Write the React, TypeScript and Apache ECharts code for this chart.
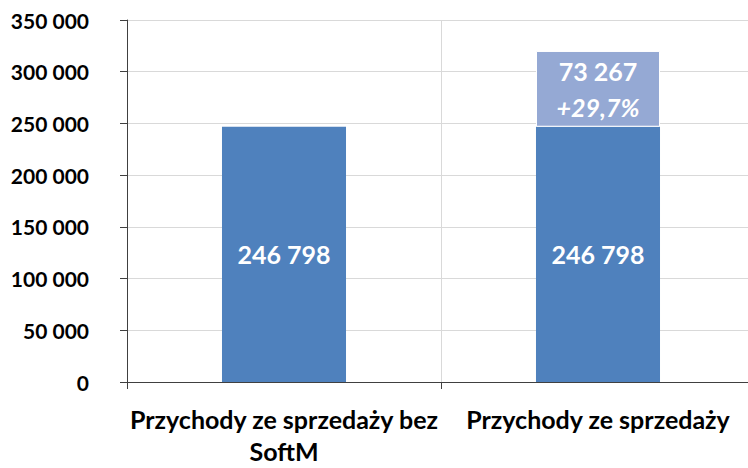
import React, { useEffect, useRef } from "react";
import * as echarts from "echarts";

const categories = ["Przychody ze sprzedaży bez\nSoftM", "Przychody ze sprzedaży"];
const baseValues = [246798, 246798];
const extraValues = [null, 73267];
const extraPct = ["", "+29,7%"];
const yTicks = { min: 0, max: 350000, interval: 50000 };

const fmt = (v: number) => String(Math.round(v)).replace(/\B(?=(\d{3})+(?!\d))/g, " ");

const FONT = "Lato";

export default function App() {
  const ref = useRef<HTMLDivElement>(null);
  useEffect(() => {
    document.body.style.margin = "0";
    if (!ref.current) return;
    const chart = echarts.init(ref.current, null, { renderer: "svg", width: 748, height: 468 });
    chart.setOption({
      animation: false,
      grid: {
        left: 127,
        top: 20,
        right: -7,
        bottom: 86,
        containLabel: false,
        outerBoundsMode: "none",
      },
      xAxis: {
        type: "category",
        data: categories,
        axisLine: { show: true, lineStyle: { color: "#404040", width: 1 } },
        axisTick: { show: true, length: 7, lineStyle: { color: "#404040" } },
        splitLine: { show: true, lineStyle: { color: "#D9D9D9", width: 1 } },
        axisLabel: {
          color: "#000",
          fontFamily: FONT,
          fontWeight: "bold",
          fontSize: 25,
          lineHeight: 32,
          margin: 21,
          interval: 0,
        },
      },
      yAxis: {
        type: "value",
        min: yTicks.min,
        max: yTicks.max,
        interval: yTicks.interval,
        axisLine: { show: true, lineStyle: { color: "#404040", width: 1 } },
        axisTick: { show: true, inside: false, length: 7, lineStyle: { color: "#404040" } },
        splitLine: { show: true, lineStyle: { color: "#D9D9D9", width: 1 } },
        axisLabel: {
          color: "#000",
          fontFamily: FONT,
          fontWeight: "bold",
          fontSize: 21,
          margin: 38,
          formatter: (v: number) => fmt(v),
        },
      },
      series: [
        {
          type: "bar",
          stack: "s",
          data: baseValues,
          barWidth: "39.5%",
          itemStyle: { color: "#4F81BD" },
          label: {
            show: true,
            position: "inside",
            color: "#fff",
            fontFamily: FONT,
            fontWeight: "bold",
            fontSize: 25,
            formatter: (p: any) => fmt(p.value),
          },
        },
        {
          type: "bar",
          stack: "s",
          data: extraValues,
          barWidth: "39.5%",
          itemStyle: { color: "#95A9D4", borderColor: "#fff", borderWidth: 1 },
          label: {
            show: true,
            position: "inside",
            fontFamily: FONT,
            formatter: (p: any) =>
              p.value == null ? "" : `{a|${fmt(p.value)}}\n{b|${extraPct[p.dataIndex]}}`,
            rich: {
              a: { color: "#fff", fontFamily: FONT, fontWeight: "bold", fontSize: 25, lineHeight: 36 },
              b: { color: "#fff", fontFamily: FONT, fontWeight: "bold", fontStyle: "italic", fontSize: 25, lineHeight: 36 },
            },
          },
        },
      ],
    });
    return () => chart.dispose();
  }, []);
  return <div ref={ref} style={{ width: 748, height: 468, overflow: "hidden" }} />;
}
